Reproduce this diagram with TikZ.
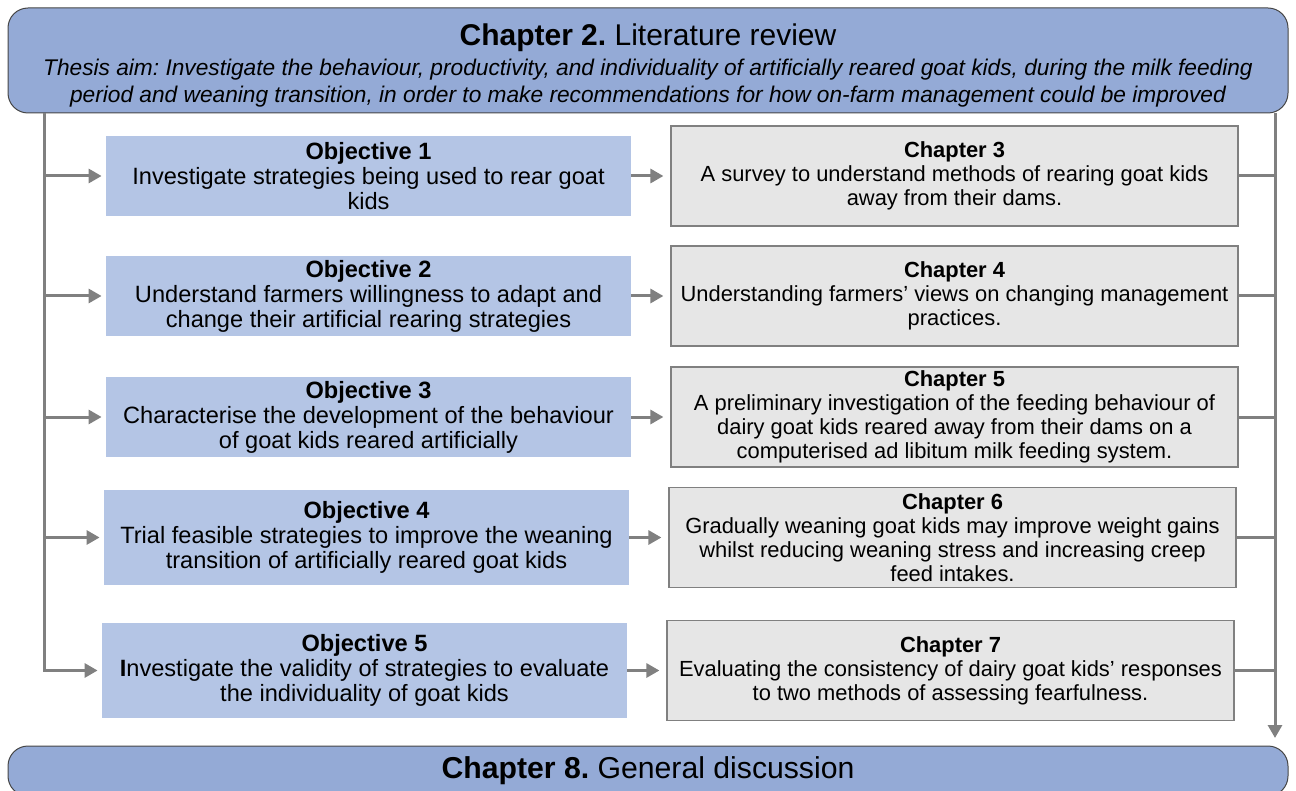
\documentclass[tikz,border=0pt]{standalone}
\usepackage{fontspec}
\setmainfont{Liberation Sans}
\usetikzlibrary{arrows.meta,positioning}
\definecolor{hdrblue}{RGB}{148,170,214}
\definecolor{objblue}{RGB}{180,197,229}
\definecolor{chgrey}{RGB}{230,230,230}
\definecolor{linegrey}{RGB}{128,128,128}
\definecolor{edgegrey}{RGB}{70,70,70}
\frenchspacing

\begin{document}
\begin{tikzpicture}[x=0.5pt, y=-0.5pt, >={Triangle[length=6.5pt,width=7pt]},
  bar/.style={draw=edgegrey, fill=hdrblue, rounded corners=10pt, line width=0.5pt,
    minimum width=640pt, align=center, inner sep=0pt},
  obj/.style={fill=objblue, minimum width=262.5pt, minimum height=40pt,
    align=center, inner sep=0pt, font=\fontsize{11.8}{12.5}\selectfont},
  chap/.style={draw=linegrey, fill=chgrey, line width=0.6pt, minimum width=283.5pt,
    minimum height=50pt, align=center, inner sep=0pt, font=\fontsize{10.95}{12}\selectfont},
  link/.style={draw=linegrey, line width=1.5pt}]
\useasboundingbox (0,0) rectangle (1296,791);

% header and footer
\node[bar, minimum height=52.5pt, font=\fontsize{11.35}{13.5}\selectfont] (hdr) at (648,60.5)
  {{\fontsize{15}{16}\selectfont\rule{0pt}{16pt}\textbf{Chapter 2.}~Literature review}\\[1.5pt]
   \itshape Thesis aim: Investigate the behaviour, productivity, and individuality of artificially reared goat kids, during the milk feeding\\
   \itshape period and weaning transition, in order to make recommendations for how on-farm management could be improved};
\node[bar, minimum height=25pt, font=\fontsize{15.1}{16}\selectfont] (disc) at (648,771)
  {\textbf{Chapter 8.}~General discussion};

% objectives
\node[obj] (obj1) at (368.5,176) {\textbf{Objective 1}\\ Investigate strategies being used to rear goat\\ kids};
\node[obj] (obj2) at (368.5,296) {\textbf{Objective 2}\\ Understand farmers willingness to adapt and\\ change their artificial rearing strategies};
\node[obj] (obj3) at (368.5,417) {\textbf{Objective 3}\\ Characterise the development of the behaviour\\ of goat kids reared artificially};
\node[obj, minimum height=47.5pt] (obj4) at (366.5,537.5) {\textbf{Objective 4}\\ Trial feasible strategies to improve the weaning\\ transition of artificially reared goat kids};
\node[obj, minimum height=47.5pt] (obj5) at (364.5,670.5) {\textbf{Objective 5}\\ \textbf{I}nvestigate the validity of strategies to evaluate\\ the individuality of goat kids};

% chapters
\node[chap, right=19.5pt of obj1] (ch3) {\textbf{Chapter 3}\\ A survey to understand methods of rearing goat kids\\ away from their dams.};
\node[chap, right=19.5pt of obj2] (ch4) {\textbf{Chapter 4}\\ Understanding farmers’ views on changing management\\ practices.};
\node[chap, right=19.5pt of obj3] (ch5) {\textbf{Chapter 5}\\ A preliminary investigation of the feeding behaviour of\\ dairy goat kids reared away from their dams on a\\ computerised ad libitum milk feeding system.};
\node[chap, right=19.5pt of obj4] (ch6) {\textbf{Chapter 6}\\ Gradually weaning goat kids may improve weight gains\\ whilst reducing weaning stress and increasing creep\\ feed intakes.};
\node[chap, right=19.5pt of obj5] (ch7) {\textbf{Chapter 7}\\ Evaluating the consistency of dairy goat kids’ responses\\ to two methods of assessing fearfulness.};

% spines
\coordinate (lspine) at (44,113);
\coordinate (rspine) at (1275,113);
\coordinate (rend) at (1275,738);
\foreach \i in {1,...,4}
  \draw[link,->,shorten >=2pt] (lspine |- obj\i.west) -- (obj\i.west);
\draw[link,->,shorten >=2pt] (lspine) -- (lspine |- obj5.west) -- (obj5.west);
\foreach \i/\c in {1/3,2/4,3/5,4/6,5/7}
  \draw[link,->,shorten >=3.5pt] (obj\i) -- (ch\c);
\foreach \c in {3,...,7}
  \draw[link] (ch\c.east) -- (rspine |- ch\c.east);
\draw[link,->] (rspine) -- (rend);
\end{tikzpicture}
\end{document}
